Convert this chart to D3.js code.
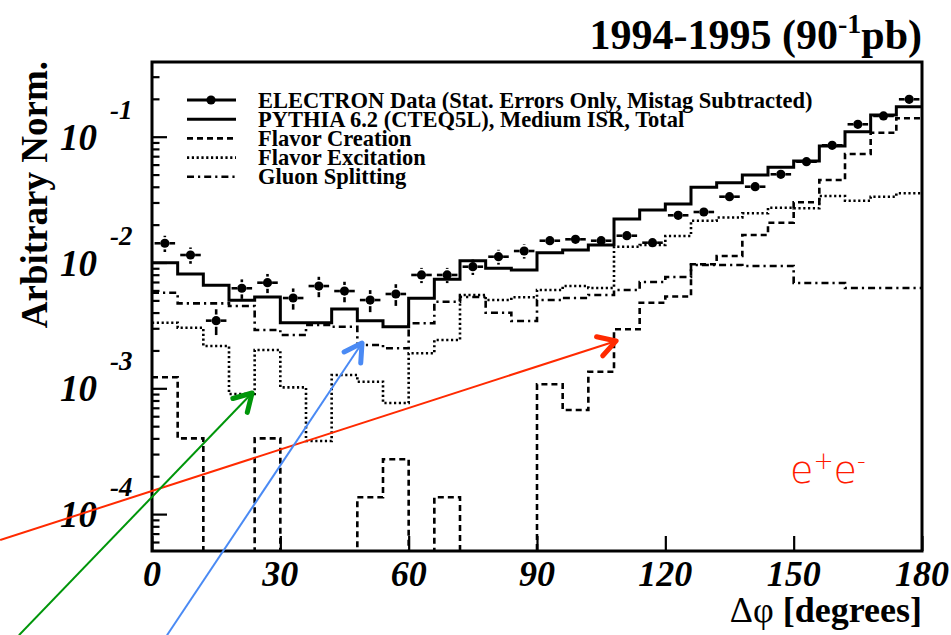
<!DOCTYPE html>
<html><head><meta charset="utf-8">
<script src="https://cdn.jsdelivr.net/npm/d3@7"></script>
<style>body{margin:0;background:#fff}svg{display:block}</style>
</head><body>
<svg id="c" width="951" height="635"></svg>
<script>
// ---- data (bins of 6 degrees, centers) ----
const binCenters = [3,9,15,21,27,33,39,45,51,57,63,69,75,81,87,93,99,105,111,117,123,129,135,141,147,153,159,165,171,177];
const binWidth = 6;
const electronData = [0.01422,0.01147,0.00345,0.00624,0.00691,0.00522,0.00650,0.00593,0.00503,0.00562,
  0.00796,0.00796,0.00926,0.01112,0.01234,0.01490,0.01529,0.01490,0.01633,0.01437,
  0.02372,0.02520,0.03336,0.04005,0.05024,0.06327,0.08546,0.1255,0.1462,0.1983];
const electronErr = [0.0021,0.0017,0.0008,0.0011,0.0012,0.0010,0.0012,0.0011,0.0010,0.0011,
  0.0011,0.0011,0.0013,0.0015,0.0016,0.0016,0.0016,0.0015,0.0016,0.0015,
  0.0017,0.0018,0.0022,0.0025,0.0030,0.0034,0.0042,0.0055,0.0062,0.0080];
const pythiaTotal = [0.00996,0.00810,0.00659,0.00501,0.00532,0.00332,0.00332,0.00427,0.00345,0.00309,
  0.00519,0.00735,0.01033,0.00899,0.00872,0.01196,0.01257,0.01377,0.02218,0.02615,
  0.02917,0.03961,0.04308,0.04960,0.05713,0.06409,0.08437,0.1096,0.1487,0.1732];
const flavorCreation = [0.001223,0.000400,0,0,0.000400,0,0,0,0.000136,0.000273,
  0,0.000136,0,0,0,0.001076,0.000672,0.001355,0.002944,0.004791,
  0.005366,0.00968,0.01126,0.01654,0.02072,0.03010,0.04527,0.07286,0.1076,0.1401];
const flavorExcitation = [0.003323,0.003032,0.002169,0.000901,0.002016,0.001018,0.000381,0.001276,0.001128,0.000764,
  0.001898,0.002421,0.005516,0.005031,0.005290,0.006045,0.006505,0.006270,0.01335,0.01377,
  0.01624,0.02149,0.02279,0.02461,0.02726,0.02696,0.03378,0.03099,0.03335,0.03548];
const gluonSplitting = [0.005754,0.004737,0.004737,0.004510,0.002906,0.002652,0.003186,0.003089,0.002209,0.002080,
  0.003287,0.004880,0.005319,0.003990,0.003428,0.005031,0.005219,0.005516,0.006045,0.006998,
  0.007666,0.009552,0.009552,0.009380,0.009380,0.006871,0.006871,0.006270,0.006270,0.006270];

const xTicks = [0,30,60,90,120,150,180];
const xTickLabels = ["0","30","60","90","120","150","180"];
const yMajor = [1e-1,1e-2,1e-3,1e-4];
const yMajorExp = ["-1","-2","-3","-4"];

const legendLabels = ["ELECTRON Data (Stat. Errors Only, Mistag Subtracted)",
  "PYTHIA 6.2 (CTEQ5L), Medium ISR, Total","Flavor Creation","Flavor Excitation","Gluon Splitting"];

// annotation arrows in data coordinates [deg, value]
const arrows = [
  {color:"#ff2a00", from:[-35.5,6.22e-5], to:[108.5,2.38e-3]},
  {color:"#00960a", from:[-31.1,1.09e-5], to:[23.4,9.18e-4]},
  {color:"#4a8af4", from:[3.5,1.09e-5], to:[49.1,2.29e-3]}
];

// ---- drawing ----
const svg = d3.select("#c");
const X0=152, X1=922, Y0=62, Y1=551;
const x = d3.scaleLinear().domain([0,180]).range([X0,X1]);
const y = d3.scaleLog().domain([5.09e-5,0.3925]).range([Y1,Y0]);
const serif = "'Liberation Serif','Times New Roman',serif";

svg.append("defs").append("clipPath").attr("id","clip")
  .append("rect").attr("x",X0).attr("y",Y0).attr("width",X1-X0).attr("height",Y1-Y0);

const plot = svg.append("g").attr("clip-path","url(#clip)");

function stepPath(vals){
  let p="";
  vals.forEach((v,i)=>{
    const xa=x(binCenters[i]-binWidth/2), xb=x(binCenters[i]+binWidth/2);
    const yy = v>0 ? y(v) : Y1+3;
    p += (i===0?"M":"L")+xa+","+yy+"L"+xb+","+yy;
  });
  return p;
}
const styles = {
  total:{dash:null, w:3},
  fc:{dash:"6,4", w:2.6},
  fe:{dash:"2.2,2.6", w:2.6},
  gs:{dash:"7,4,2.2,4", w:2.6}
};
[[flavorCreation,styles.fc],[flavorExcitation,styles.fe],[gluonSplitting,styles.gs],[pythiaTotal,styles.total]].forEach(([vals,s])=>{
  plot.append("path").attr("d",stepPath(vals)).attr("fill","none").attr("stroke","#000")
    .attr("stroke-width",s.w).attr("stroke-dasharray",s.dash);
});

// data points
const r=4.6;
const pts = plot.append("g");
electronData.forEach((v,i)=>{
  const cx=x(binCenters[i]), cy=y(v);
  const ex = x(binCenters[i]+binWidth*0.4)-cx;
  pts.append("line").attr("x1",cx-ex).attr("x2",cx-r).attr("y1",cy).attr("y2",cy).attr("stroke","#000").attr("stroke-width",2.6);
  pts.append("line").attr("x1",cx+r).attr("x2",cx+ex).attr("y1",cy).attr("y2",cy).attr("stroke","#000").attr("stroke-width",2.6);
  const yu=y(v+electronErr[i]), yl=y(v-electronErr[i]);
  if(cy-yu>r+2) pts.append("line").attr("x1",cx).attr("x2",cx).attr("y1",cy-r-1.5).attr("y2",yu).attr("stroke","#000").attr("stroke-width",2.6);
  if(yl-cy>r+2) pts.append("line").attr("x1",cx).attr("x2",cx).attr("y1",cy+r+1.5).attr("y2",yl).attr("stroke","#000").attr("stroke-width",2.6);
  pts.append("circle").attr("cx",cx).attr("cy",cy).attr("r",r).attr("fill","#000");
});

// axes ticks
const yMinor = y.ticks().filter(t=>!yMajor.some(m=>Math.abs(m-t)/m<1e-6));
const gy = svg.append("g").attr("transform",`translate(${X0},0)`)
  .call(d3.axisLeft(y).tickValues(yMajor).tickSizeInner(-15).tickSizeOuter(0).tickFormat(""));
const gy2 = svg.append("g").attr("transform",`translate(${X0},0)`)
  .call(d3.axisLeft(y).tickValues(yMinor).tickSizeInner(-7.5).tickSizeOuter(0).tickFormat(""));
const gx = svg.append("g").attr("transform",`translate(0,${Y1})`)
  .call(d3.axisBottom(x).tickValues(xTicks).tickSizeInner(-15).tickSizeOuter(0).tickFormat(""));
[gy,gy2,gx].forEach(g=>{ g.select(".domain").remove(); g.selectAll(".tick line").attr("stroke","#000").attr("stroke-width",2.2); });

// frame
svg.append("rect").attr("x",X0).attr("y",Y0).attr("width",X1-X0).attr("height",Y1-Y0)
  .attr("fill","none").attr("stroke","#000").attr("stroke-width",3);

// y labels
yMajor.forEach((v,i)=>{
  const yy=y(v);
  svg.append("text").attr("x",97).attr("y",yy+13).attr("text-anchor","end")
    .attr("font-family",serif).attr("font-weight","bold").attr("font-style","italic").attr("font-size",37).text("10");
  svg.append("text").attr("x",110).attr("y",yy-18).attr("text-anchor","start")
    .attr("font-family",serif).attr("font-weight","bold").attr("font-style","italic").attr("font-size",27).text(yMajorExp[i]);
});
// x labels
xTicks.forEach((t,i)=>{
  svg.append("text").attr("x",x(t)).attr("y",586).attr("text-anchor","middle")
    .attr("font-family",serif).attr("font-weight","bold").attr("font-style","italic").attr("font-size",36).text(xTickLabels[i]);
});

// axis titles
svg.append("text").attr("transform","translate(47,61) rotate(-90)").attr("text-anchor","end")
  .attr("font-family",serif).attr("font-weight","bold").attr("font-size",37).text("Arbitrary Norm.");
const xt = svg.append("text").attr("x",922).attr("y",622).attr("text-anchor","end")
  .attr("font-family",serif).attr("font-size",36);
xt.append("tspan").text("\u0394\u03c6 ");
xt.append("tspan").attr("font-weight","bold").text("[degrees]");

// title
const tt = svg.append("text").attr("x",922).attr("y",49).attr("text-anchor","end")
  .attr("font-family",serif).attr("font-weight","bold").attr("font-size",42);
tt.append("tspan").text("1994-1995 (90");
tt.append("tspan").attr("font-size",28).attr("dy",-16).text("-1");
tt.append("tspan").attr("dy",16).text("pb)");

// legend
const legY = [100,119.2,138.4,157.6,176.8];
const lg = svg.append("g");
const legStyles = [styles.total, styles.total, styles.fc, styles.fe, styles.gs];
legendLabels.forEach((lab,i)=>{
  lg.append("line").attr("x1",187).attr("x2",236).attr("y1",legY[i]).attr("y2",legY[i])
    .attr("stroke","#000").attr("stroke-width",legStyles[i].w).attr("stroke-dasharray",legStyles[i].dash);
  if(i===0) lg.append("circle").attr("cx",211).attr("cy",legY[i]).attr("r",r).attr("fill","#000");
  lg.append("text").attr("x",258).attr("y",legY[i]+7.5).attr("font-family",serif).attr("font-weight","bold")
    .attr("font-size",22.5).text(lab);
});

// arrows
arrows.forEach(a=>{
  const x1=x(a.from[0]), y1=y(a.from[1]), x2=x(a.to[0]), y2=y(a.to[1]);
  svg.append("line").attr("x1",x1).attr("y1",y1).attr("x2",x2).attr("y2",y2)
    .attr("stroke",a.color).attr("stroke-width",2);
  const ang=Math.atan2(y1-y2,x1-x2), L=20, th=Math.PI/6;
  const p=[[x2+L*Math.cos(ang+th), y2+L*Math.sin(ang+th)],[x2,y2],[x2+L*Math.cos(ang-th), y2+L*Math.sin(ang-th)]];
  svg.append("path").attr("d",d3.line()(p)).attr("fill","none").attr("stroke",a.color)
    .attr("stroke-width",5).attr("stroke-linecap","round").attr("stroke-linejoin","round");
});

// e+e- label
const ee = svg.append("text").attr("x",790).attr("y",483).attr("fill","#ff1a00")
  .attr("font-family","'DejaVu Sans',sans-serif").attr("font-weight",200).attr("font-size",38);
ee.append("tspan").text("e");
ee.append("tspan").attr("font-size",24).attr("dy",-14).text("+");
ee.append("tspan").attr("dy",14).text("e");
ee.append("tspan").attr("font-size",24).attr("dy",-14).text("-");
</script>
</body></html>
